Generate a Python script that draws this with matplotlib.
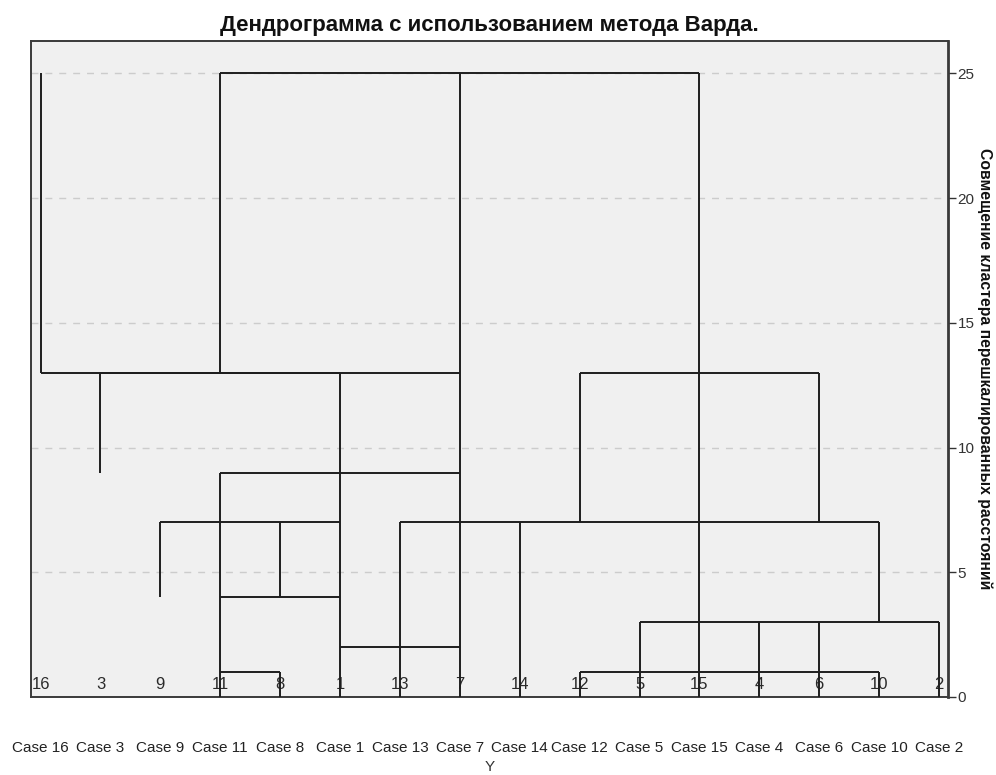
import matplotlib
matplotlib.use("Agg")
import matplotlib.pyplot as plt

plt.rcParams['font.family'] = ['Liberation Sans', 'DejaVu Sans']

# ---- data ----
leaf_numbers = ["16", "3", "9", "11", "8", "1", "13", "7",
                "14", "12", "5", "15", "4", "6", "10", "2"]
case_labels = ["Case " + n for n in leaf_numbers]

# horizontal links: (height, from leaf index, to leaf index)
h_height = [25, 13, 13, 13, 9, 7, 7, 4, 3, 2, 1, 1]
h_start  = [3, 0, 1, 9, 3, 2, 6, 3, 10, 5, 3, 9]
h_end    = [11, 7, 5, 13, 7, 5, 14, 5, 15, 7, 4, 14]

# vertical links: (leaf index, bottom height, top height)
v_leaf   = [0, 1, 2, 3, 3, 4, 4, 5, 6, 7, 8, 9, 9, 10, 11, 12, 13, 13, 14, 14, 15]
v_bottom = [13, 9, 4, 0, 13, 0, 4, 0, 0, 0, 0, 7, 0, 0, 0, 0, 0, 7, 3, 0, 0]
v_top    = [25, 13, 7, 9, 25, 1, 7, 13, 7, 25, 7, 13, 1, 3, 25, 3, 3, 13, 7, 1, 3]

y_ticks = [0, 5, 10, 15, 20, 25]
title = "Дендрограмма с использованием метода Варда."
y_label = "Совмещение кластера перешкалированных расстояний"
x_label = "Y"

# ---- figure ----
fig = plt.figure(figsize=(9.96, 7.75), dpi=100)
ax = fig.add_axes([31 / 996, 1 - 697 / 775, 917 / 996, 656 / 775])
ax.set_facecolor('#f0f0f0')

line_color = '#1e1e1e'
lw = 1.4
ax.hlines(h_height, h_start, h_end, colors=line_color, linewidth=lw, zorder=3)
ax.vlines(v_leaf, v_bottom, v_top, colors=line_color, linewidth=lw, zorder=3)

for i, n in enumerate(leaf_numbers):
    ax.text(i, 0.52, n, ha='center', va='center', fontsize=12,
            color='#2a2a2a', zorder=2)

ax.set_xlim(-0.16, 15.15)
ax.set_ylim(0, 26.3)

# grid
for t in y_ticks[1:]:
    ax.axhline(t, color='#cccccc', linewidth=1.0, linestyle=(0, (5, 5)), zorder=1)

# x axis
ax.set_xticks(range(len(case_labels)))
ax.set_xticklabels(case_labels, fontsize=11, color='#222222')
ax.tick_params(axis='x', length=0, pad=32)
ax.set_xlabel(x_label, fontsize=11, color='#333333')
ax.xaxis.set_label_coords(0.5, -(767 - 697) / 656)
ax.xaxis.label.set_va('center')

# y axis on right
ax.yaxis.tick_right()
ax.set_yticks(y_ticks)
ax.tick_params(axis='y', length=6, width=1.0, direction='out', pad=1,
               labelsize=11, colors='#333333')
ax.yaxis.set_label_position('right')
ax.set_ylabel(y_label, fontsize=11.3, fontweight='bold', rotation=270,
              color='#111111')
ax.yaxis.set_label_coords((985 - 31) / 917, 0.5)
ax.yaxis.label.set_va('center')
ax.yaxis.label.set_ha('center')

for s in ax.spines.values():
    s.set_color('#3a3a3a')
    s.set_linewidth(1.4)
ax.spines['right'].set_linewidth(2.0)

ax.set_title(title, fontsize=16, fontweight='bold', pad=7, color='#111111')

fig.savefig('out.png', dpi=100, facecolor='white')
